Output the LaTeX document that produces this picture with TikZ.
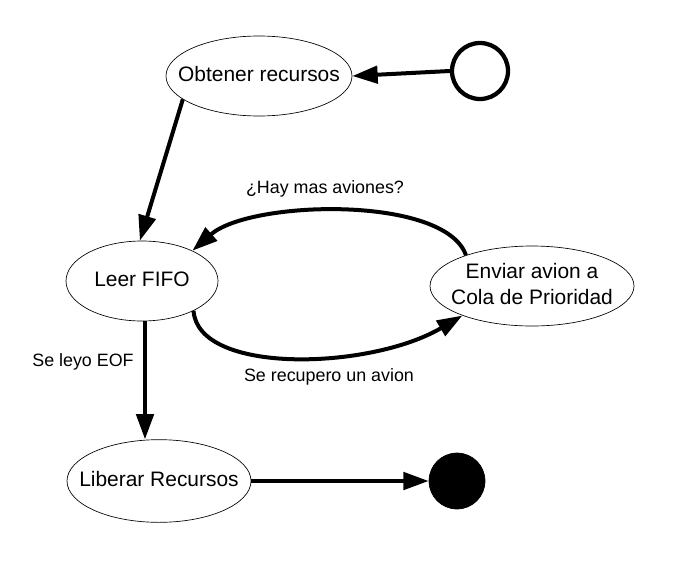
\documentclass[tikz,border=0pt]{standalone}
\usepackage{fontspec}
\setmainfont{Liberation Sans}
\usetikzlibrary{shapes.geometric,arrows.meta}
\newcommand{\zw}[1]{\makebox[0pt]{\begin{tabular}{@{}c@{}}#1\end{tabular}}}
\begin{document}
\begin{tikzpicture}[x=0.75pt,y=-0.75pt,
  state/.style={ellipse,draw,line width=0.5pt,inner sep=0pt,font=\fontsize{15.7}{19.5}\selectfont},
  conn/.style={line width=3pt,-{Triangle[length=19pt,width=13pt]}},
  lbl/.style={font=\fontsize{13.4}{16}\selectfont,inner sep=0pt}]
\useasboundingbox (0,0) rectangle (680,578);
\node[state,minimum width=139.5pt,minimum height=60pt] (obt) at (259,76) {\zw{Obtener recursos}};
\node[circle,draw,line width=3.2pt,minimum size=42pt,inner sep=0pt] (init) at (480,71) {};
\node[state,minimum width=114pt,minimum height=60pt] (fifo) at (142,281) {\zw{Leer FIFO}};
\node[state,minimum width=153pt,minimum height=60pt] (env) at (532,286) {\zw{Enviar avion a\\Cola de Prioridad}};
\node[state,minimum width=138pt,minimum height=62pt] (lib) at (159,481) {\zw{Liberar Recursos}};
\node[circle,fill=black,draw,line width=0.5pt,minimum size=42pt,inner sep=0pt] (fin) at (457,481) {};
\node[lbl] (l1) at (325,189) {¿Hay mas aviones?};
\node[lbl] (l2) at (329,377) {Se recupero un avion};
\node[lbl] (l3) at (83,362) {Se leyo EOF};
\draw[conn] (init.west) -- (obt.east);
\draw[conn] (obt.197) -- (fifo.93);
\draw[conn] (env.155) .. controls (445,195) and (250,200) .. (fifo.31);
\draw[conn] (fifo.-30) .. controls (198,375) and (370,370) .. (env.203);
\draw[conn] (fifo.south) ++(3,0) coordinate (fs) -- (fs |- lib.north);
\draw[conn] (lib.east) -- (fin.west);
\end{tikzpicture}
\end{document}
